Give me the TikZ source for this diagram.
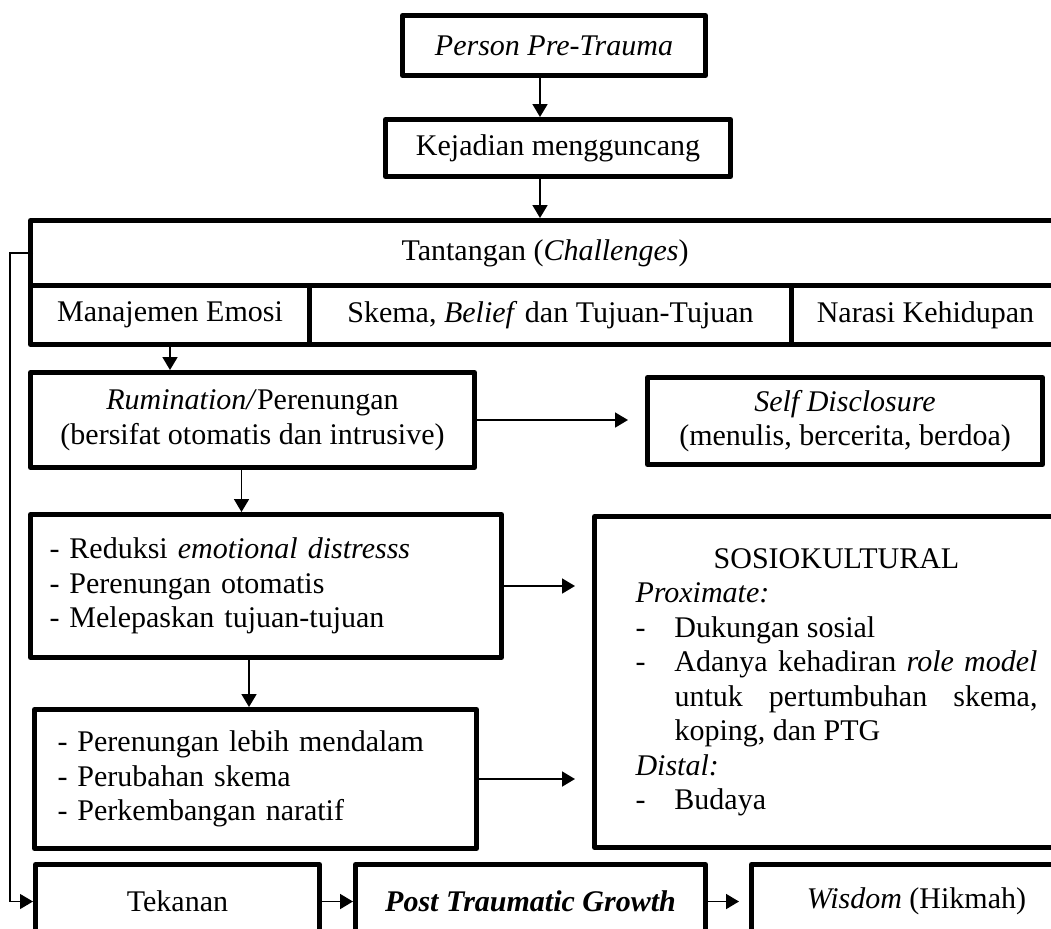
\documentclass[tikz,border=0pt]{standalone}
\usepackage{fontspec}
\setmainfont{Liberation Serif}
\usetikzlibrary{positioning, arrows.meta, calc}
\tikzset{
    >={Triangle[length=5.2pt, width=6pt]}, % filled arrow heads
    box/.style={rectangle, draw=black, line width=2pt, line join=round, anchor=north west, inner sep=0pt, font=\fontsize{12}{13.8}\selectfont},
    link/.style={->, line width=0.7pt},
    loopback/.style={->, line width=0.5pt},
}

\begin{document}
\begin{tikzpicture}[x=0.4pt, y=-0.4pt]
        \useasboundingbox (0,0) rectangle (1051,928);
        \clip (0,0) rectangle (1051,928);
        % Nodes
        \node[box, minimum width=121.2pt, minimum height=24pt] (person) at (400,13) {\textit{Person Pre-Trauma}};
        \node[box, minimum width=138pt, minimum height=22.8pt] (kejadian) at (383,117) {Kejadian mengguncang};

        \node[box, minimum width=411.6pt, minimum height=26pt] (tant) at (28,218) {Tantangan (\textit{Challenges})};
        \node[box, minimum width=111.6pt, minimum height=23.6pt] (manaj) at (28,283) {Manajemen Emosi};
        \node[box, minimum width=192.8pt, minimum height=23.6pt] (skema) at (307,283) {Skema, \textit{Belief} dan Tujuan-Tujuan};
        \node[box, minimum width=107.2pt, minimum height=23.6pt] (narasi) at (789,283) {Narasi Kehidupan};

        \node[box, minimum width=177.6pt, minimum height=38pt, align=center] (rum) at (28,370) {\textit{Rumination/}Perenungan\\(bersifat otomatis dan intrusive)};
        \node[box, minimum width=158pt, minimum height=34.8pt, align=center] (sd) at (645,375) {\textit{Self Disclosure}\\(menulis, bercerita, berdoa)};

        \node[box, minimum width=188.4pt, minimum height=57.2pt, inner xsep=7.6pt, text width=173.2pt, align=left] (red) at (28,512)
            {- Reduksi \textit{emotional distresss}\\- Perenungan otomatis\\- Melepaskan tujuan-tujuan};
        \node[box, minimum width=176.8pt, minimum height=55.6pt, inner xsep=9.2pt, text width=158.4pt, align=left] (per) at (32,707)
            {- Perenungan lebih mendalam\\- Perubahan skema\\- Perkembangan naratif};

        \node[box, minimum width=193.6pt, minimum height=132.4pt] (sosio) at (592,514) {%
            \begin{tabular}{@{}p{15.6pt}@{}p{145.2pt}@{}}
            \multicolumn{2}{@{}c@{}}{SOSIOKULTURAL}\\
            \multicolumn{2}{@{}l@{}}{\textit{Proximate:}}\\
            - & Dukungan sosial\\
            - & \makebox[145.2pt][s]{Adanya kehadiran \textit{role model}}\\
              & \makebox[145.2pt][s]{untuk pertumbuhan skema,}\\
              & koping, dan PTG\\
            \multicolumn{2}{@{}l@{}}{\textit{Distal:}}\\
            - & Budaya
            \end{tabular}};

        \node[box, minimum width=113.6pt, minimum height=29.6pt] (tek) at (33,862) {Tekanan};
        \node[box, minimum width=140pt, minimum height=29.6pt] (ptg) at (353,862) {\textbf{\textit{Post Traumatic Growth}}};
        \node[box, minimum width=132pt, minimum height=29.6pt] (wis) at (749,862) {\textit{Wisdom} (Hikmah)};

        % Draw lines
        \coordinate (p1) at ($(person.south)+(-14,0)$);
        \coordinate (k1) at ($(kejadian.south)+(-18,0)$);
        \coordinate (r1) at ($(rum.south)+(-11,0)$);
        \coordinate (d1) at ($(red.south)+(-17,0)$);
        \coordinate (fb) at (10,600);

        \draw[link] (p1) -- (p1 |- kejadian.north);
        \draw[link] (k1) -- (k1 |- tant.north);
        \draw[link] (manaj.south) -- (manaj.south |- rum.north);
        \draw[link] (r1) -- (r1 |- red.north);
        \draw[link] (d1) -- (d1 |- per.north);

        \draw[link, shorten >=6.8pt] (rum.east) -- (rum.east -| sd.west);
        \draw[link, shorten >=6.8pt] (red.east) -- (red.east -| sosio.west);
        \draw[link, shorten >=6.8pt] (per.east) -- (per.east -| sosio.west);

        \draw[link] (tek.east) -- (ptg.west);
        \draw[link, shorten >=4pt] (ptg.east) -- (wis.west);

        \draw[loopback] ([xshift=2pt]tant.west) -| (fb) |- (tek.west);
    \end{tikzpicture}
\end{document}
